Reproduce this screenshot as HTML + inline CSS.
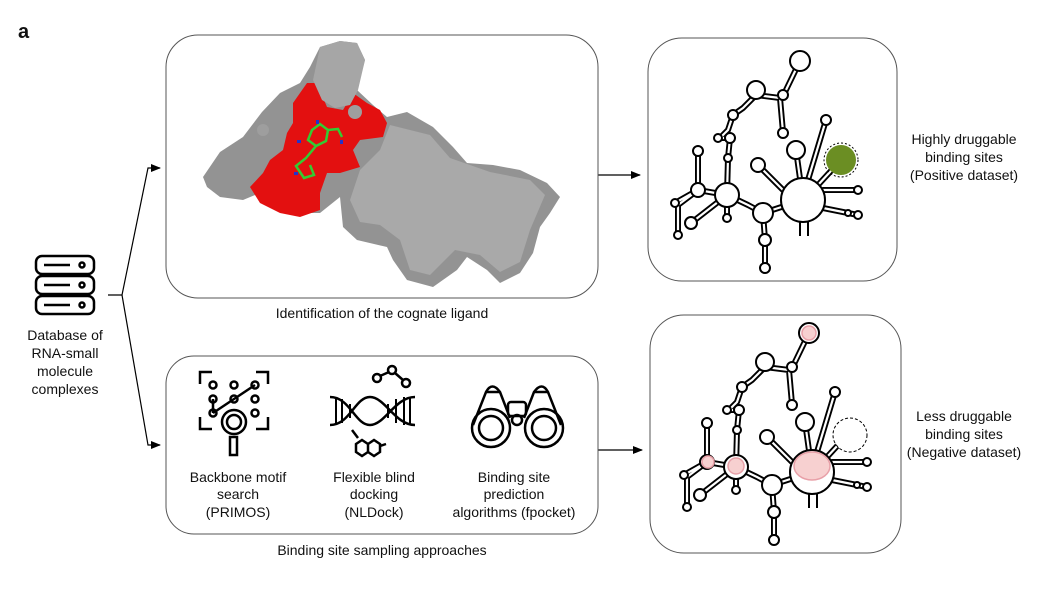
<!DOCTYPE html>
<html><head><meta charset="utf-8"><style>
html,body{margin:0;padding:0;background:#fff}
svg{display:block}
text{font-family:"Liberation Sans",Arial,sans-serif;font-size:14px;fill:#111}
</style></head><body>
<svg width="1058" height="595" viewBox="0 0 1058 595" xmlns="http://www.w3.org/2000/svg">
<defs>
<marker id="ah" markerWidth="10" markerHeight="8" refX="9" refY="4" orient="auto" markerUnits="userSpaceOnUse">
<path d="M0,0 L10,4 L0,8 z" fill="#000"/></marker>
<g id="stems" fill="none" stroke-linecap="round" stroke-linejoin="round">
<path d="M152,21 L137,52 L132,58 L135,92 M132,58 L108,55 L95,68 L85,75 L80,90 L72,98 L82,98 L80,118 L79,155
M79,155 L50,150 L50,111 M50,150 L30,165 L30,195 M50,150 L27,163 M79,155 L43,183 M79,155 L79,178 M79,155 L100,165 L115,173
L117,200 L117,228 M115,173 L155,160 M155,160 L148,110 M160,140 L178,80 M170,145 L193,120 M175,150 L210,150 M175,168 L210,175 M135,150 L110,125"/>
</g>
<g id="rna">
<use href="#stems" stroke="#000" stroke-width="6"/>
<use href="#stems" stroke="#fff" stroke-width="2.2"/>
<g fill="#fff" stroke="#000" stroke-width="2">
<circle cx="152" cy="21" r="10"/><circle cx="135" cy="55" r="5"/><circle cx="135" cy="93" r="5"/>
<circle cx="108" cy="50" r="9"/><circle cx="85" cy="75" r="5"/><circle cx="70" cy="98" r="4"/><circle cx="82" cy="98" r="5"/>
<circle cx="80" cy="118" r="4"/><circle cx="79" cy="155" r="12"/><circle cx="50" cy="150" r="7"/><circle cx="50" cy="111" r="5"/>
<circle cx="27" cy="163" r="4"/><circle cx="30" cy="195" r="4"/><circle cx="43" cy="183" r="6"/><circle cx="79" cy="178" r="4"/>
<circle cx="115" cy="173" r="10"/><circle cx="117" cy="200" r="6"/><circle cx="117" cy="228" r="5"/>
<circle cx="155" cy="160" r="22"/><circle cx="148" cy="110" r="9"/><circle cx="178" cy="80" r="5"/>
<circle cx="110" cy="125" r="7"/><circle cx="210" cy="150" r="4"/><circle cx="210" cy="175" r="4"/><circle cx="200" cy="173" r="3"/>
</g>
<path d="M152,182 L152,196 M160,182 L160,196" stroke="#000" stroke-width="2"/>
</g>
</defs>

<text x="18" y="38" style="font-size:20px;font-weight:bold">a</text>

<!-- database icon -->
<g fill="none" stroke="#000" stroke-width="2.5">
<rect x="36" y="256" width="58" height="18" rx="6"/>
<rect x="36" y="276" width="58" height="18" rx="6"/>
<rect x="36" y="296" width="58" height="18" rx="6"/>
<circle cx="82" cy="265" r="2.5"/><circle cx="82" cy="285" r="2.5"/><circle cx="82" cy="305" r="2.5"/>
<path d="M44,265 H70 M44,285 H70 M44,305 H70"/>
</g>
<text x="65" y="340" text-anchor="middle">Database of</text>
<text x="65" y="358" text-anchor="middle">RNA-small</text>
<text x="65" y="376" text-anchor="middle">molecule</text>
<text x="65" y="394" text-anchor="middle">complexes</text>

<!-- connectors -->
<g stroke="#000" stroke-width="1.2" fill="none">
<path d="M108,295 H122 L148,168 H160" marker-end="url(#ah)"/>
<path d="M122,295 L148,445 H160" marker-end="url(#ah)"/>
<path d="M598,175 H640" marker-end="url(#ah)"/>
<path d="M598,450 H642" marker-end="url(#ah)"/>
</g>

<!-- boxes -->
<rect x="166" y="35" width="432" height="263" rx="32" fill="none" stroke="#555" stroke-width="1"/>
<rect x="166" y="356" width="432" height="178" rx="28" fill="none" stroke="#555" stroke-width="1"/>
<rect x="648" y="38" width="249" height="243" rx="34" fill="none" stroke="#555" stroke-width="1"/>
<rect x="650" y="315" width="251" height="238" rx="34" fill="none" stroke="#555" stroke-width="1"/>

<!-- protein -->
<path d="M203,177 L220,152 L243,137 L262,112 L280,93 L300,83 L310,67 L320,47 L340,41 L357,43 L365,60 L357,90 L373,105 L387,117 L407,112 L433,127 L453,147 L467,163 L493,165 L520,170 L547,183 L560,197 L550,213 L540,227 L533,253 L520,273 L500,283 L487,270 L467,257 L457,270 L433,287 L407,280 L393,260 L387,247 L357,240 L343,227 L340,197 L320,213 L300,213 L277,210 L260,193 L243,200 L220,197 L207,187 Z" fill="#939393"/>
<path d="M390,125 L430,135 L450,158 L490,172 L530,180 L545,195 L530,230 L520,262 L500,272 L480,255 L455,250 L430,275 L410,270 L400,240 L380,225 L360,222 L350,200 L360,170 L380,150 Z" fill="#a9a9a9"/>
<path d="M250,187 L263,173 L270,160 L283,150 L287,133 L293,123 L293,103 L307,83 L317,83 L327,107 L343,110 L353,93 L367,103 L380,110 L387,123 L383,137 L360,140 L353,150 L360,167 L340,173 L327,173 L320,193 L320,210 L300,217 L280,213 L260,203 Z" fill="#e31010"/>
<path d="M320,47 L340,41 L357,43 L365,60 L358,90 L350,105 L335,108 L322,100 L313,80 Z" fill="#a6a6a6"/>
<circle cx="355" cy="112" r="7" fill="#9e9e9e"/>
<circle cx="263" cy="130" r="6" fill="#9e9e9e"/>
<g stroke="#33cc33" stroke-width="2.5" fill="none">
<path d="M312,130 L320,124 L328,130 L326,141 L316,146 L308,140 Z M328,130 L338,129 L342,137 M316,146 L306,158 L296,166 L304,178 L314,175 L310,165"/>
</g>
<g fill="#2233cc"><rect x="316" y="120" width="3" height="4"/><rect x="297" y="140" width="4" height="3"/><rect x="294" y="172" width="4" height="3"/><rect x="340" y="140" width="3" height="4"/></g>

<text x="382" y="318" text-anchor="middle">Identification of the cognate ligand</text>

<!-- icons bottom -->
<g fill="none" stroke="#000" stroke-width="2.5">
<path d="M200,384 V372 H212 M256,372 H268 V384 M200,417 V429 H212 M268,417 V429 H256"/>
<circle cx="213" cy="385" r="3.5"/><circle cx="234" cy="385" r="3.5"/><circle cx="255" cy="385" r="3.5"/>
<circle cx="213" cy="399" r="3.5"/><circle cx="234" cy="399" r="3.5"/><circle cx="255" cy="399" r="3.5"/>
<circle cx="213" cy="413" r="3.5"/><circle cx="255" cy="413" r="3.5"/>
<path d="M213,413 L234,399 L255,385 M213,399 V413"/>
<circle cx="234" cy="422" r="12"/><circle cx="234" cy="422" r="7"/>
<rect x="230" y="437" width="7" height="18"/>
<path d="M330,397 C350,397 355,425 370,425 C385,425 395,397 415,397 M330,425 C350,425 355,397 370,397 C385,397 395,425 415,425"/>
<path d="M336,397 V425 M342,399 V423 M350,404 V418 M388,404 V418 M396,399 V423 M404,397 V425 M410,397 V425" stroke-width="2"/>
<circle cx="377" cy="378" r="4"/><circle cx="392" cy="370" r="4"/><circle cx="406" cy="383" r="4"/>
<path d="M380,376 L389,372 M395,373 L403,380"/>
<path d="M352,430 L358,438 M356,444 L362,440 L368,444 L368,452 L362,456 L356,452 Z M368,444 L374,440 L380,444 L380,452 L374,456 L368,452 M380,446 L386,444"/>
<path d="M473,425 L486,392 Q492,381 500,392 L510,418 M561,425 L548,392 Q542,381 534,392 L524,418"/>
<path d="M486,392 H500 M534,392 H548"/>
<rect x="508" y="402" width="18" height="14" rx="3"/>
<circle cx="491" cy="428" r="19"/><circle cx="491" cy="428" r="12"/>
<circle cx="544" cy="428" r="19"/><circle cx="544" cy="428" r="12"/>
<circle cx="517" cy="420" r="5"/>
</g>
<g text-anchor="middle">
<text x="238" y="482">Backbone motif</text><text x="238" y="499">search</text><text x="238" y="517">(PRIMOS)</text>
<text x="374" y="482">Flexible blind</text><text x="374" y="499">docking</text><text x="374" y="517">(NLDock)</text>
<text x="514" y="482">Binding site</text><text x="514" y="499">prediction</text><text x="514" y="517">algorithms (fpocket)</text>
<text x="382" y="555">Binding site sampling approaches</text>
</g>

<!-- RNA top -->
<use href="#rna" transform="translate(648,40)"/>
<circle cx="841" cy="160" r="17" fill="none" stroke="#000" stroke-width="1" stroke-dasharray="2,2"/>
<circle cx="841" cy="160" r="15" fill="#6b8e23"/>

<!-- RNA bottom -->
<use href="#rna" transform="translate(657,312)"/>
<g fill="#f7d0d0" stroke="#e8a0a8" stroke-width="1.5">
<circle cx="809" cy="333" r="7"/>
<circle cx="736" cy="466" r="8"/>
<circle cx="708" cy="462" r="6"/>
<ellipse cx="812" cy="466" rx="18" ry="14"/>
</g>
<circle cx="850" cy="435" r="17" fill="#fff" stroke="#000" stroke-width="1" stroke-dasharray="3,2"/>

<g text-anchor="middle">
<text x="964" y="144">Highly druggable</text><text x="964" y="162">binding sites</text><text x="964" y="180">(Positive dataset)</text>
<text x="964" y="421">Less druggable</text><text x="964" y="439">binding sites</text><text x="964" y="457">(Negative dataset)</text>
</g>
</svg>
</body></html>
